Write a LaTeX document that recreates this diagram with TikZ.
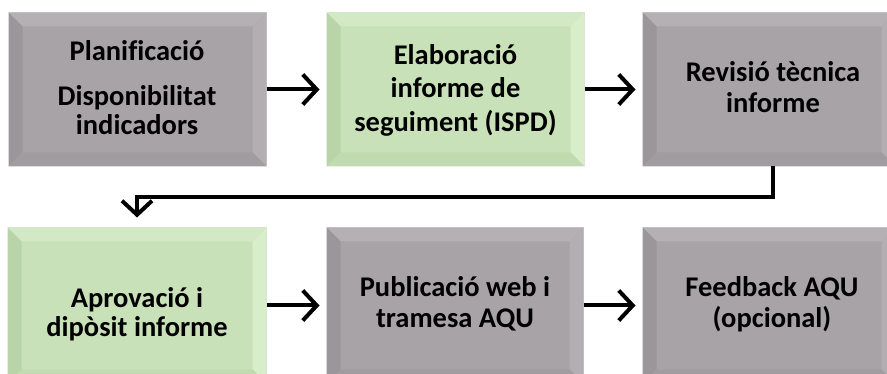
\documentclass[tikz,border=0pt]{standalone}
\usepackage{fontspec}
\setmainfont{Carlito}[Ligatures=NoCommon]
\usetikzlibrary{arrows.meta,calc}
\definecolor{gC}{HTML}{A7A3A7}
\definecolor{gT}{HTML}{B4B0B4}
\definecolor{gL}{HTML}{9A969A}
\definecolor{gR}{HTML}{B2AEB2}
\definecolor{gB}{HTML}{A09CA0}
\definecolor{vC}{HTML}{C9E1B9}
\definecolor{vT}{HTML}{D3E9C5}
\definecolor{vL}{HTML}{B9D4A8}
\definecolor{vR}{HTML}{D8EECA}
\definecolor{vB}{HTML}{C1DAB0}
\tikzset{
  boxbase/.style={rectangle, inner sep=0pt, draw=black!14, line width=1pt},
  graybox/.style={boxbase, fill=gC},
  greenbox/.style={boxbase, fill=vC},
  lbl/.style={font=\bfseries\fontsize{28.5}{33}\selectfont, anchor=base, inner sep=0pt},
  arr/.style={line width=4pt, -{Straight Barb[length=14pt,width=30pt,line width=4pt]}, shorten >=7pt},
}
\newcommand{\bev}[5]{%
  \fill[#2] (#1.north west) -- (#1.north east) -- ($(#1.north east)+(-14pt,-14pt)$) -- ($(#1.north west)+(14pt,-14pt)$) -- cycle;
  \fill[#3] (#1.north west) -- ($(#1.north west)+(14pt,-14pt)$) -- ($(#1.south west)+(14pt,14pt)$) -- (#1.south west) -- cycle;
  \fill[#4] (#1.north east) -- ($(#1.north east)+(-14pt,-14pt)$) -- ($(#1.south east)+(-14pt,14pt)$) -- (#1.south east) -- cycle;
  \fill[#5] (#1.south west) -- ($(#1.south west)+(14pt,14pt)$) -- ($(#1.south east)+(-14pt,14pt)$) -- (#1.south east) -- cycle;
}
\begin{document}
\begin{tikzpicture}[x=1pt,y=-1pt]
\useasboundingbox (0,0) rectangle (887,374);
\clip (0,0) rectangle (887,374);
\fill[white] (0,0) rectangle (887,374);
% boxes
\node[graybox, minimum width=257pt, minimum height=153pt] (b1) at (137.5,89.5) {};
\node[greenbox, minimum width=257pt, minimum height=153pt] (b2) at (455.5,89.5) {};
\node[graybox, minimum width=252pt, minimum height=153pt] (b3) at (769,89.5) {};
\node[greenbox, minimum width=258pt, minimum height=155pt] (b4) at (137,305.5) {};
\node[graybox, minimum width=256pt, minimum height=155pt] (b5) at (455,305.5) {};
\node[graybox, minimum width=252pt, minimum height=155pt] (b6) at (769,305.5) {};
\bev{b1}{gT}{gL}{gR}{gB}
\bev{b2}{vT}{vL}{vR}{vB}
\bev{b3}{gT}{gL}{gR}{gB}
\bev{b4}{vT}{vL}{vR}{vB}
\bev{b5}{gT}{gL}{gR}{gB}
\bev{b6}{gT}{gL}{gR}{gB}
% texts
\node[lbl] (t1a) at (137,61) {Planificació};
\node[lbl] (t1b) at (137,106) {Disponibilitat};
\node[lbl] (t1c) at (137,135) {indicadors};
\node[lbl] (t2a) at (455.5,65) {Elaboració};
\node[lbl] (t2b) at (455.5,98) {informe de};
\node[lbl] (t2c) at (455.5,132) {seguiment (ISPD)};
\node[lbl] (t3a) at (773,82) {Revisió tècnica};
\node[lbl] (t3b) at (773,113) {informe};
\node[lbl] (t4a) at (137,308) {Aprovació i};
\node[lbl] (t4b) at (137,337) {dipòsit informe};
\node[lbl] (t5a) at (455,297) {Publicació web i};
\node[lbl] (t5b) at (455,328) {tramesa AQU};
\node[lbl] (t6a) at (772,297) {Feedback AQU};
\node[lbl] (t6b) at (772,327) {(opcional)};
% connectors
\coordinate (c1) at (773,197);
\draw[arr] (b1.east) -- (b2.west);
\draw[arr] (b2.east) -- (b3.west);
\draw[arr, shorten >=10pt, line join=miter] (b3.south -| c1) -- (c1) -| (b4.north);
\draw[arr] (b4.east) -- (b4.east -| b5.west);
\draw[arr] (b5.east) -- (b5.east -| b6.west);
\end{tikzpicture}
\end{document}
